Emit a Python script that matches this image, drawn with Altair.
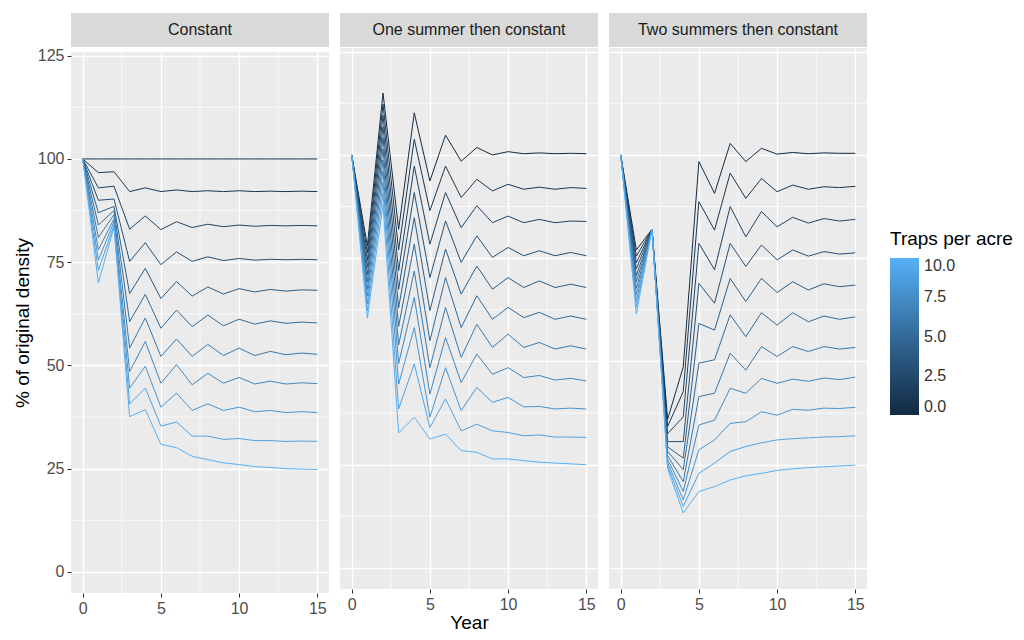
import altair as alt
import pandas as pd

years = list(range(16))
trap_levels = list(range(11))
scenarios = ["Constant", "One summer then constant", "Two summers then constant"]

# % of original density, one list per traps-per-acre level (0..10), years 0..15
constant = [
    [100, 100, 100, 100, 100, 100, 100, 100, 100, 100, 100, 100, 100, 100, 100, 100],
    [100, 96.7, 96.9, 92.1, 93.0, 92.1, 92.5, 92.1, 92.3, 92.1, 92.3, 92.1, 92.2, 92.1, 92.2, 92.1],
    [100, 93.0, 93.4, 83.0, 86.2, 82.9, 84.8, 83.4, 84.2, 83.6, 84.0, 83.7, 83.9, 83.8, 83.9, 83.8],
    [100, 90.0, 90.3, 75.2, 79.7, 74.4, 77.5, 75.2, 76.3, 75.4, 75.9, 75.5, 75.7, 75.6, 75.7, 75.6],
    [100, 87.0, 88.5, 67.4, 73.5, 66.2, 70.3, 66.8, 69.0, 67.3, 68.6, 67.8, 68.4, 68.0, 68.3, 68.2],
    [100, 84.0, 87.5, 60.6, 67.2, 59.0, 63.4, 59.4, 62.2, 59.6, 61.2, 60.0, 60.8, 60.2, 60.5, 60.3],
    [100, 81.0, 86.5, 54.2, 61.5, 52.2, 56.4, 52.2, 55.1, 52.4, 54.2, 52.4, 53.4, 52.6, 53.0, 52.7],
    [100, 78.0, 85.5, 48.5, 55.8, 45.7, 50.2, 45.3, 48.1, 45.7, 47.1, 45.5, 46.2, 45.5, 45.8, 45.6],
    [100, 75.5, 84.8, 44.5, 49.8, 39.9, 43.3, 39.1, 40.7, 39.1, 39.9, 38.8, 39.1, 38.6, 38.8, 38.6],
    [100, 73.0, 84.0, 40.7, 44.5, 35.3, 36.3, 32.9, 32.9, 32.1, 32.3, 31.8, 31.8, 31.6, 31.7, 31.6],
    [100, 70.0, 83.5, 37.6, 39.3, 30.9, 30.1, 28.0, 27.2, 26.4, 26.0, 25.5, 25.3, 25.0, 24.9, 24.8],
]

one_summer = [
    [100, 78.0, 115.0, 82.0, 110.2, 93.7, 104.8, 98.5, 101.8, 100.0, 100.8, 100.3, 100.5, 100.3, 100.4, 100.3],
    [100, 76.3, 112.3, 77.0, 103.8, 86.5, 97.3, 89.7, 94.1, 91.3, 92.9, 91.7, 92.2, 91.7, 92.1, 91.9],
    [100, 74.5, 109.6, 72.0, 97.3, 78.4, 90.9, 82.4, 87.7, 83.6, 85.2, 83.6, 84.4, 83.6, 84.0, 83.9],
    [100, 72.8, 106.9, 67.5, 90.9, 70.3, 84.0, 74.0, 80.4, 75.2, 77.6, 75.6, 76.8, 75.6, 76.4, 75.6],
    [100, 71.0, 104.2, 63.0, 84.8, 62.3, 77.2, 66.3, 73.1, 67.5, 70.3, 67.9, 69.5, 67.9, 68.7, 67.9],
    [100, 69.3, 101.5, 58.5, 78.4, 55.0, 70.3, 58.2, 65.9, 60.2, 63.1, 60.6, 61.9, 60.2, 61.0, 60.2],
    [100, 67.5, 98.8, 54.0, 71.9, 48.5, 63.1, 51.0, 59.0, 53.4, 56.6, 53.4, 54.6, 53.0, 53.8, 53.0],
    [100, 65.8, 96.1, 49.5, 65.5, 42.1, 55.8, 44.9, 51.8, 46.9, 48.5, 46.1, 46.6, 45.5, 45.9, 45.3],
    [100, 64.0, 93.4, 44.5, 58.2, 36.5, 48.5, 38.1, 43.7, 40.1, 41.3, 39.0, 39.1, 38.5, 38.7, 38.5],
    [100, 62.3, 90.7, 38.5, 49.4, 34.0, 40.9, 33.2, 34.8, 33.2, 32.8, 32.0, 32.2, 31.7, 31.7, 31.6],
    [100, 60.5, 88.0, 32.7, 36.5, 31.2, 32.4, 28.4, 28.0, 26.4, 26.4, 26.0, 25.6, 25.4, 25.2, 25.0],
]

two_summers = [
    [100, 77.0, 82.0, 36.0, 48.7, 98.4, 90.7, 102.8, 98.4, 101.6, 100.2, 100.6, 100.3, 100.5, 100.4, 100.4],
    [100, 75.5, 82.0, 34.3, 42.7, 88.7, 81.8, 95.6, 89.5, 94.3, 91.1, 92.7, 91.7, 92.3, 92.1, 92.4],
    [100, 73.9, 82.0, 32.5, 36.6, 78.6, 72.2, 87.5, 80.2, 86.3, 82.6, 84.9, 83.5, 84.6, 84.0, 84.4],
    [100, 72.4, 82.0, 30.6, 30.6, 68.9, 64.1, 78.6, 73.0, 78.2, 74.6, 77.0, 75.5, 76.6, 76.0, 76.3],
    [100, 70.8, 82.0, 29.3, 26.6, 59.2, 57.6, 70.1, 64.5, 70.1, 66.7, 69.3, 67.3, 68.8, 68.1, 68.5],
    [100, 69.3, 82.0, 28.2, 23.8, 49.6, 50.4, 61.3, 56.0, 61.8, 58.8, 61.8, 59.6, 61.0, 60.2, 60.8],
    [100, 67.7, 82.0, 27.2, 20.9, 41.5, 42.3, 52.0, 47.9, 53.6, 51.2, 53.6, 52.4, 53.6, 53.0, 53.4],
    [100, 66.2, 82.0, 26.3, 18.5, 34.6, 35.8, 43.5, 42.3, 45.9, 44.7, 45.7, 45.2, 46.0, 45.6, 46.2],
    [100, 64.6, 82.0, 25.5, 16.5, 28.6, 31.0, 35.0, 35.4, 37.8, 37.0, 38.4, 38.2, 38.7, 38.6, 38.9],
    [100, 63.1, 82.0, 24.7, 14.9, 22.9, 25.4, 28.2, 29.4, 30.3, 31.0, 31.3, 31.5, 31.7, 31.8, 32.0],
    [100, 61.5, 82.0, 24.0, 13.3, 18.5, 19.7, 21.3, 22.3, 22.9, 23.6, 24.0, 24.3, 24.5, 24.7, 24.9],
]

year_ticks = [0, 5, 10, 15]
density_ticks = [0, 25, 50, 75, 100, 125]
minor_years = [2.5, 7.5, 12.5]
minor_density = [12.5, 37.5, 62.5, 87.5, 112.5]

rows = []
for scenario, lines in zip(scenarios, [constant, one_summer, two_summers]):
    for traps, values in zip(trap_levels, lines):
        for year, value in zip(years, values):
            rows.append({"scenario": scenario, "traps": traps, "year": year, "density": value})
density = pd.DataFrame(rows)

PANEL_W, PANEL_H, STRIP_H = 258, 541, 34

x_scale = alt.Scale(domain=[-0.75, 15.75], nice=False, zero=False)
y_scale = alt.Scale(domain=[-5.1, 125.9], nice=False, zero=False)
color_scale = alt.Scale(domain=[0, 10], range=["#132B43", "#56B1F7"], interpolate="lab")

legend = alt.Legend(
    title="Traps per acre",
    orient="none",
    legendX=819,
    legendY=217,
    values=[0, 2.5, 5, 7.5, 10],
    format=".1f",
    gradientLength=157,
    gradientThickness=29,
    gradientStrokeWidth=0,
    titleFontSize=19,
    titleFontWeight="normal",
    titleColor="black",
    titlePadding=9,
    labelFontSize=16,
    labelColor="#333333",
    labelOffset=5,
)


def panel(scenario, show_y, x_title):
    if show_y:
        y_axis = alt.Axis(values=density_ticks, title="% of original density", titlePadding=5)
    else:
        y_axis = alt.Axis(values=density_ticks, labels=False, ticks=False, title="")
    x_axis = alt.Axis(values=year_ticks, title=x_title, titlePadding=1)

    strip = (
        alt.Chart(pd.DataFrame({"scenario": [scenario]}))
        .mark_text(fontSize=16, color="#1A1A1A")
        .encode(text="scenario:N")
        .properties(width=PANEL_W, height=STRIP_H, view=alt.ViewBackground(fill="#D9D9D9", strokeWidth=0))
    )

    minor_v = (
        alt.Chart(pd.DataFrame({"year": minor_years}))
        .mark_rule(color="white", strokeWidth=0.7)
        .encode(x=alt.X("year:Q", scale=x_scale, axis=x_axis))
    )
    minor_h = (
        alt.Chart(pd.DataFrame({"density": minor_density}))
        .mark_rule(color="white", strokeWidth=0.7)
        .encode(y=alt.Y("density:Q", scale=y_scale, axis=y_axis))
    )
    lines = (
        alt.Chart(density)
        .transform_filter(alt.datum.scenario == scenario)
        .mark_line(strokeWidth=1)
        .encode(
            x=alt.X("year:Q", scale=x_scale, axis=x_axis),
            y=alt.Y("density:Q", scale=y_scale, axis=y_axis),
            color=alt.Color("traps:Q", scale=color_scale, legend=legend),
            detail="traps:N",
            order="year:Q",
        )
    )
    body = alt.layer(minor_v, minor_h, lines).properties(width=PANEL_W, height=PANEL_H)
    return alt.vconcat(strip, body, spacing=0)


chart = (
    alt.hconcat(
        panel(scenarios[0], True, ""),
        panel(scenarios[1], False, "Year"),
        panel(scenarios[2], False, ""),
        spacing=9,
    )
    .properties(padding={"left": 5, "top": 5, "right": 0, "bottom": 0})
    .configure(font="Liberation Sans")
    .configure_view(fill="#EBEBEB", strokeWidth=0)
    .configure_axis(
        domain=False,
        tickColor="#333333",
        tickSize=4,
        labelColor="#4D4D4D",
        labelFontSize=16,
        labelPadding=3,
        titleFontSize=19,
        titleFontWeight="normal",
        titleColor="black",
        gridColor="white",
        gridWidth=1.4,
    )
)

chart.save("out.html", embed_options={"renderer": "svg", "actions": False})
